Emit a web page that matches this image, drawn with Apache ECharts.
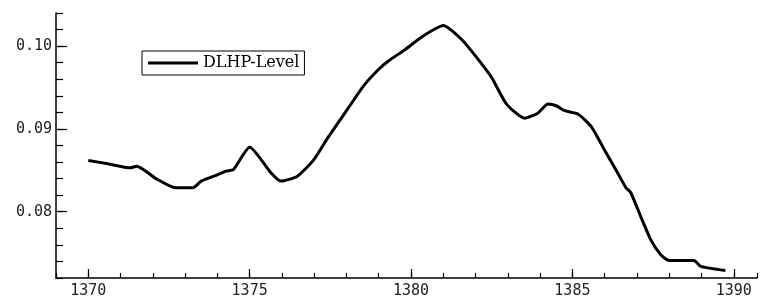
<!DOCTYPE html>
<html>
<head>
<meta charset="utf-8">
<script src="https://cdn.jsdelivr.net/npm/echarts@6/dist/echarts.min.js"></script>
<style>
  html, body { margin: 0; padding: 0; background: #fff; }
  #levelChart { width: 760px; height: 300px; }
</style>
</head>
<body>
<div id="levelChart"></div>
<script>
var years = [1370, 1370.6, 1371.3, 1371.5, 1372.1, 1372.7, 1373.24, 1373.5, 1373.96, 1374.27, 1374.5, 1375,
  1375.66, 1375.96, 1376.48, 1376.99, 1377.45, 1378.07, 1378.53, 1379.0, 1379.3, 1379.82, 1380.33, 1380.75, 1381.0,
  1381.57, 1382.08, 1382.5, 1382.96, 1383.52, 1383.93, 1384.24, 1384.5, 1384.76, 1385.17, 1385.58, 1385.99, 1386.4,
  1386.66, 1386.81, 1387.12, 1387.43, 1387.74, 1388.0, 1388.77, 1388.98, 1389.74];
var levels = [0.0862, 0.0858, 0.0853, 0.0855, 0.0840, 0.0829, 0.0829, 0.0837, 0.0844, 0.0849, 0.0851, 0.0878,
  0.0847, 0.0837, 0.0843, 0.0863, 0.0891, 0.0926, 0.0952, 0.0972, 0.0982, 0.0996, 0.1011, 0.1021, 0.1025,
  0.1008, 0.0984, 0.0962, 0.0930, 0.0913, 0.0919, 0.0930, 0.0928, 0.0922, 0.0918, 0.0903, 0.0875, 0.0847,
  0.0829, 0.0823, 0.0794, 0.0766, 0.0748, 0.0741, 0.0741, 0.0734, 0.0729];
var yearTicks = [1370, 1375, 1380, 1385, 1390];
var levelTicks = [0.08, 0.09, 0.10];
var seriesName = 'DLHP-Level';

var chart = echarts.init(document.getElementById('levelChart'));
var points = years.map(function (y, i) { return [y, levels[i]]; });
var labelFont = { fontFamily: 'DejaVu Sans Mono', fontSize: 15, color: '#222' };

var option = {
  animation: false,
  grid: { left: 56, right: 0, top: 13, bottom: 22 },
  legend: {
    left: 142, top: 51,
    orient: 'vertical',
    borderColor: '#000', borderWidth: 1,
    padding: [4, 5, 4, 6],
    icon: 'rect',
    itemWidth: 50, itemHeight: 3,
    textStyle: { fontFamily: 'DejaVu Serif', fontSize: 16, lineHeight: 14, color: '#000' },
    data: [seriesName]
  },
  xAxis: [{
    type: 'value', min: 1369, max: 1390.72, interval: 1,
    axisLine: { lineStyle: { color: '#000', width: 1.5 } },
    axisTick: { inside: true, length: 5, lineStyle: { color: '#000', width: 1.2 } },
    axisLabel: Object.assign({
      margin: 6,
      formatter: function (v) { return Math.round(v) % 5 === 0 ? String(Math.round(v)) : ''; }
    }, labelFont),
    splitLine: { show: false }
  }, {
    type: 'value', min: 1369, max: 1390.72, position: 'bottom',
    axisLine: { show: false },
    axisTick: { inside: true, length: 9, customValues: yearTicks, lineStyle: { color: '#000', width: 1.2 } },
    axisLabel: { show: false },
    splitLine: { show: false }
  }],
  yAxis: [{
    type: 'value', min: 0.072, max: 0.104, interval: 0.002,
    axisLine: { show: true, lineStyle: { color: '#000', width: 1.5 } },
    axisTick: { show: true, inside: true, length: 7, lineStyle: { color: '#000', width: 1.2 } },
    axisLabel: Object.assign({
      margin: 4,
      formatter: function (v) {
        var r = Math.round(v * 1000);
        return r % 10 === 0 ? (r / 1000).toFixed(2) : '';
      }
    }, labelFont),
    splitLine: { show: false }
  }, {
    type: 'value', min: 0.072, max: 0.104, position: 'left',
    axisLine: { show: false },
    axisTick: { show: true, inside: true, length: 11, customValues: levelTicks, lineStyle: { color: '#000', width: 1.2 } },
    axisLabel: { show: false },
    splitLine: { show: false }
  }],
  series: [{
    name: seriesName,
    type: 'line',
    data: points,
    symbol: 'none',
    smooth: 0.2,
    lineStyle: { color: '#000', width: 3 },
    itemStyle: { color: '#000' }
  }]
};
chart.setOption(option);
</script>
</body>
</html>
